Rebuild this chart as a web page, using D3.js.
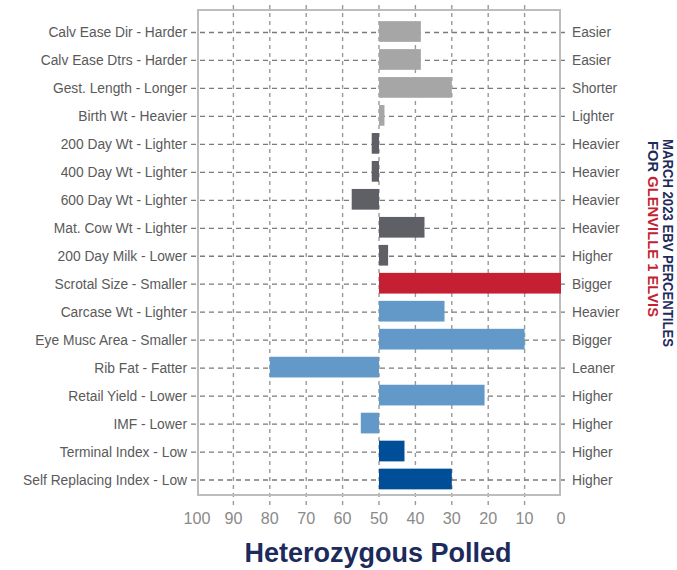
<!DOCTYPE html>
<html><head><meta charset="utf-8">
<script src="https://cdn.jsdelivr.net/npm/d3@7"></script>
<style>html,body{margin:0;padding:0;background:#fff;}svg{display:block;}</style>
</head><body>
<script>
const categories = ["Calv Ease Dir - Harder","Calv Ease Dtrs - Harder","Gest. Length - Longer","Birth Wt - Heavier","200 Day Wt - Lighter","400 Day Wt - Lighter","600 Day Wt - Lighter","Mat. Cow Wt - Lighter","200 Day Milk - Lower","Scrotal Size - Smaller","Carcase Wt - Lighter","Eye Musc Area - Smaller","Rib Fat - Fatter","Retail Yield - Lower","IMF - Lower","Terminal Index - Low","Self Replacing Index - Low"];
const rightLabels = ["Easier","Easier","Shorter","Lighter","Heavier","Heavier","Heavier","Heavier","Higher","Bigger","Heavier","Bigger","Leaner","Higher","Higher","Higher","Higher"];
const percentiles = [38.5,38.5,30,48.5,52,52,57.5,37.5,47.5,0,32,10,80,21,55,43,30];
const groups = ["calving","calving","calving","calving","growth","growth","growth","growth","growth","fertility","carcase","carcase","carcase","carcase","carcase","index","index"];
const groupColors = {calving:"#a6a6a6",growth:"#5f6066",fertility:"#c41f33",carcase:"#6399c8",index:"#004e97"};
const xTicks = [100,90,80,70,60,50,40,30,20,10,0];
const baseline = 50;
const title = "Heterozygous Polled";
const sideLine1 = "MARCH 2023 EBV PERCENTILES";
const sideLine2a = "FOR ";
const sideLine2b = "GLENVILLE 1 ELVIS";

const W = 677, H = 570;
const svg = d3.select("body").append("svg").attr("width", W).attr("height", H);
const x = d3.scaleLinear().domain([100,0]).range([197,561]);
const y = d3.scalePoint().domain(categories).range([31.5,479]);
const frame = {top:10,bottom:495,left:198,right:560};
const font = "'Liberation Sans','Arial',sans-serif";
const narrow = 0.89;

// vertical gridlines
svg.append("g").selectAll("line").data(xTicks.filter(d=>d!==100 && d!==0)).join("line")
  .attr("x1",d=>x(d)).attr("x2",d=>x(d)).attr("y1",5).attr("y2",505)
  .attr("stroke","#9a9a9a").attr("stroke-width",1.4).attr("stroke-dasharray","4,4");
// horizontal gridlines
svg.append("g").selectAll("line").data(categories).join("line")
  .attr("x1",191).attr("x2",569).attr("y1",d=>y(d)+1).attr("y2",d=>y(d)+1)
  .attr("stroke","#7a7a7a").attr("stroke-width",1.3).attr("stroke-dasharray","5,4");

// frame
svg.append("rect").attr("x",frame.left).attr("y",frame.top)
  .attr("width",frame.right-frame.left).attr("height",frame.bottom-frame.top)
  .attr("fill","none").attr("stroke","#bdbdbd").attr("stroke-width",2);

// bars
const bh = 20.7;
svg.append("g").selectAll("rect").data(categories).join("rect")
  .attr("x",(d,i)=>Math.min(x(percentiles[i]),x(baseline)))
  .attr("width",(d,i)=>Math.abs(x(percentiles[i])-x(baseline)))
  .attr("y",d=>y(d)-bh/2).attr("height",bh)
  .attr("fill",(d,i)=>groupColors[groups[i]]);

// left labels
svg.append("g").selectAll("text").data(categories).join("text")
  .attr("transform",d=>`translate(187,${y(d)+5.5}) scale(${narrow},1)`).attr("text-anchor","end")
  .attr("font-family",font).attr("font-size",15.5).attr("fill","#5a5a5a").text(d=>d);
// right labels
svg.append("g").selectAll("text").data(categories).join("text")
  .attr("transform",d=>`translate(572,${y(d)+5.5}) scale(${narrow},1)`).attr("text-anchor","start")
  .attr("font-family",font).attr("font-size",15.5).attr("fill","#5a5a5a").text((d,i)=>rightLabels[i]);

// x tick labels
svg.append("g").selectAll("text").data(xTicks).join("text")
  .attr("transform",d=>`translate(${x(d)},524) scale(0.95,1)`).attr("text-anchor","middle")
  .attr("font-family",font).attr("font-size",17).attr("fill","#8a8a8a").text(d=>d);

// title
svg.append("text").attr("x",378).attr("y",562).attr("text-anchor","middle")
  .attr("font-family",font).attr("font-weight","bold").attr("font-size",27)
  .attr("fill","#1d2a5c").text(title);

// side text
svg.append("text").attr("transform","translate(663,139) rotate(90)")
  .attr("font-family",font).attr("font-weight","bold").attr("font-size",15)
  .attr("textLength",208).attr("lengthAdjust","spacingAndGlyphs")
  .attr("fill","#1d2a5c").text(sideLine1);
const t2 = svg.append("text").attr("transform","translate(648,141) rotate(90)")
  .attr("font-family",font).attr("font-weight","bold").attr("font-size",15)
  .attr("textLength",176).attr("lengthAdjust","spacingAndGlyphs");
t2.append("tspan").attr("fill","#1d2a5c").text(sideLine2a);
t2.append("tspan").attr("fill","#c41f33").text(sideLine2b);
</script>
</body></html>
